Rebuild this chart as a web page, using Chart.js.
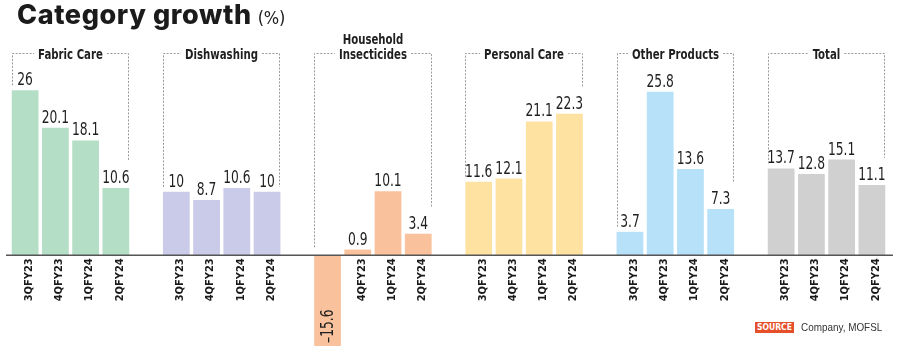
<!DOCTYPE html>
<html>
<head>
<meta charset="utf-8">
<script src="https://cdn.jsdelivr.net/npm/chart.js@4.4.0/dist/chart.umd.min.js"></script>
<style>
  body{margin:0;background:#fff;}
  #wrap{position:relative;width:900px;height:350px;overflow:hidden;}
  #title{position:absolute;left:17px;top:-2px;font-family:Inter,'DejaVu Sans',sans-serif;font-weight:800;font-size:27px;color:#1b1b1b;letter-spacing:0.6px;white-space:nowrap;}
  #title span{font-family:'DejaVu Sans Condensed',sans-serif;font-weight:400;font-size:18px;letter-spacing:-0.2px;margin-left:6px;}
  #source{position:absolute;left:755px;top:321px;font-family:'Liberation Sans',Arial,sans-serif;font-size:11px;color:#333;white-space:nowrap;}
  #source b{display:inline-block;background:#e5502a;color:#fff;font-family:'DejaVu Sans Condensed',sans-serif;font-size:8.5px;font-weight:700;padding:0 2px;line-height:11px;vertical-align:1px;}
  #source i{font-style:normal;display:inline-block;margin-left:7px;transform:scaleX(0.9);transform-origin:left center;}
  canvas{position:absolute;left:0;top:0;}
</style>
</head>
<body>
<div id="wrap">
  <canvas id="chart" width="900" height="350"></canvas>
  <div id="title">Category growth<span>(%)</span></div>
  <div id="source"><b>SOURCE</b><i>Company, MOFSL</i></div>
</div>
<script>
// Datos del gráfico
const quarters = ['3QFY23', '4QFY23', '1QFY24', '2QFY24'];
const groupTitles = [['Fabric Care'], ['Dishwashing'], ['Household', 'Insecticides'], ['Personal Care'], ['Other Products'], ['Total']];
const fabricCare = [26, 20.1, 18.1, 10.6];
const dishwashing = [10, 8.7, 10.6, 10];
const householdInsecticides = [-15.6, 0.9, 10.1, 3.4];
const personalCare = [11.6, 12.1, 21.1, 22.3];
const otherProducts = [3.7, 25.8, 13.6, 7.3];
const total = [13.7, 12.8, 15.1, 11.1];
const groupColors = ['#b4dfc6', '#c9cbe8', '#f9c29d', '#fde2a2', '#b6e1f8', '#d0d0d0'];

const series = [fabricCare, dishwashing, householdInsecticides, personalCare, otherProducts, total];

// Una ranura vacía entre grupos
const labels = [];
const values = [];
const colors = [];
series.forEach((vals, g) => {
  vals.forEach((v, i) => {
    labels.push(quarters[i]);
    values.push(v);
    colors.push(groupColors[g]);
  });
  if (g < series.length - 1) {
    labels.push('');
    values.push(null);
    colors.push('rgba(0,0,0,0)');
  }
});

const NARROW = "'DejaVu Sans Condensed', 'Liberation Sans', sans-serif";
const valueFont = `17.5px ${NARROW}`;
const SX = 0.78; // compresión horizontal para imitar la fuente estrecha

function fmt(v){ return v < 0 ? '\u2013' + Math.abs(v) : String(v); }

function narrowText(ctx, text, x, y){
  ctx.save();
  ctx.translate(x, y);
  ctx.scale(SX, 1);
  ctx.fillText(text, 0, 0);
  ctx.restore();
}

/* --------- Etiquetas de valor + línea base --------- */
const valueLabels = {
  id: 'valueLabels',
  afterDatasetsDraw(chart){
    const {ctx} = chart;
    const meta = chart.getDatasetMeta(0);
    const y0 = chart.scales.y.getPixelForValue(0);

    // línea base
    ctx.save();
    ctx.strokeStyle = '#555';
    ctx.lineWidth = 1.6;
    ctx.beginPath();
    ctx.moveTo(6, y0);
    ctx.lineTo(893, y0);
    ctx.stroke();

    ctx.font = valueFont;
    ctx.fillStyle = '#1f1f1f';
    meta.data.forEach((bar, i) => {
      const v = values[i];
      if (v === null) return;
      if (v >= 0) {
        ctx.textAlign = 'center';
        ctx.textBaseline = 'alphabetic';
        narrowText(ctx, fmt(v), bar.x, bar.y - 5);
      } else {
        ctx.save();
        ctx.translate(bar.x, chart.chartArea.bottom - 3);
        ctx.rotate(-Math.PI / 2);
        ctx.textAlign = 'left';
        ctx.textBaseline = 'middle';
        narrowText(ctx, fmt(v), 0, 1);
        ctx.restore();
      }
    });
    ctx.restore();
  }
};

/* --------- Corchetes con títulos de grupo --------- */
const groupBrackets = {
  id: 'groupBrackets',
  afterDraw(chart){
    const {ctx} = chart;
    const meta = chart.getDatasetMeta(0);
    const y0 = chart.scales.y.getPixelForValue(0);
    const lineY = 53;

    ctx.save();
    series.forEach((vals, g) => {
      const first = meta.data[g * 5];
      const last = meta.data[g * 5 + 3];
      const left = Math.round(first.x - first.width / 2) + 0.5;
      const right = Math.round(last.x + last.width / 2) - 0.5;
      const mid = (left + right) / 2;

      // texto
      ctx.font = `bold 14.5px ${NARROW}`;
      ctx.fillStyle = '#1f1f1f';
      ctx.textAlign = 'center';
      ctx.textBaseline = 'middle';
      const lines = groupTitles[g];
      lines.forEach((t, k) => {
        narrowText(ctx, t, mid, 55 - (lines.length - 1 - k) * 15);
      });
      const tw = ctx.measureText(lines[lines.length - 1]).width * SX;

      // fin de las verticales
      const vFirst = vals[0];
      const leftEnd = vFirst > 0 ? first.y - 5 : y0 - 8;
      ctx.font = valueFont;
      const vLast = vals[3];
      const lw = ctx.measureText(fmt(vLast)).width * SX;
      let rightEnd;
      if (vLast <= 0) rightEnd = y0 - 8;
      else if (lw > 17) rightEnd = last.y - 5 - 13 - 9;
      else rightEnd = last.y - 5;

      ctx.strokeStyle = '#9a9a9a';
      ctx.lineWidth = 1;
      ctx.setLineDash([2, 1.5]);
      ctx.beginPath();
      ctx.moveTo(left, leftEnd);
      ctx.lineTo(left, lineY + 0.5);
      ctx.lineTo(mid - tw / 2 - 4, lineY + 0.5);
      ctx.moveTo(mid + tw / 2 + 4, lineY + 0.5);
      ctx.lineTo(right, lineY + 0.5);
      ctx.lineTo(right, rightEnd);
      ctx.stroke();
    });
    ctx.restore();
  }
};

const ctx = document.getElementById('chart').getContext('2d');
new Chart(ctx, {
  type: 'bar',
  data: {
    labels,
    datasets: [{
      data: values,
      backgroundColor: colors,
      borderWidth: 0,
      barPercentage: 0.885,
      categoryPercentage: 1
    }]
  },
  options: {
    responsive: false,
    animation: false,
    events: [],
    layout: { padding: { left: 10, right: 13, top: 65, bottom: 4 } },
    plugins: {
      legend: { display: false },
      tooltip: { enabled: false },
      title: { display: false }
    },
    scales: {
      x: {
        position: { y: 0 },
        offset: true,
        grid: { display: false, drawTicks: false },
        border: { display: false },
        afterFit: (scale) => { scale.height = 0; },
        ticks: {
          autoSkip: false,
          minRotation: 90,
          maxRotation: 90,
          padding: 3,
          labelOffset: 4,
          color: '#1a1a1a',
          font: { family: NARROW, size: 11, weight: 'bold' }
        }
      },
      y: {
        display: false,
        min: -14.3,
        max: 30
      }
    }
  },
  plugins: [valueLabels, groupBrackets]
});
</script>
</body>
</html>
